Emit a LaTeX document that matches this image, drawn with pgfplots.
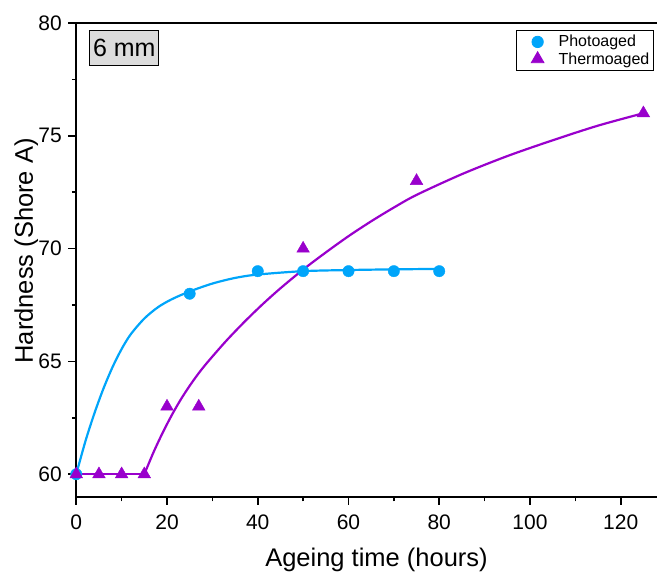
\documentclass[border=0pt]{standalone}
\usepackage{fontspec}
\setmainfont{Liberation Sans}
\usepackage{pgfplots}
\pgfplotsset{compat=1.18}
\definecolor{photo}{RGB}{0,165,250}
\definecolor{thermo}{RGB}{153,0,204}
\definecolor{boxgray}{RGB}{220,220,220}

\begin{document}
\begin{tikzpicture}
\begin{axis}[
  width=581pt, height=474pt, scale only axis,
  xmin=0, xmax=128, ymin=59, ymax=80,
  separate axis lines,
  axis x line*=box, axis y line*=left,
  axis line style={-, line width=2.3pt, black},
  xtick={0,20,...,120}, ytick={60,65,...,80},
  minor x tick num=1, minor y tick num=1,
  tick align=outside, xtick pos=bottom, ytick pos=left,
  major tick length=8pt, minor tick length=4.5pt,
  tick style={black, line width=1.6pt},
  tick label style={font=\fontsize{21}{25}\selectfont},
  xticklabel style={yshift=-7pt},
  yticklabel style={xshift=-3pt},
  /pgf/number format/assume math mode=true,
  xlabel={Ageing time (hours)},
  ylabel={Hardness (Shore A)},
  every axis x label/.style={at={(rel axis cs:0.517,0)}, yshift=-69.7pt,
    anchor=base, font=\fontsize{25.5}{30}\selectfont},
  every axis y label/.style={at={(rel axis cs:0,0.519)}, xshift=-43.3pt,
    rotate=90, anchor=base, font=\fontsize{25.5}{30}\selectfont},
  clip=false,
  legend style={at={(rel axis cs:1,1)}, anchor=north east,
    xshift=-3pt, yshift=-7pt, draw=black, line width=0.8pt,
    inner xsep=2.3pt, inner ysep=3pt,
    font=\fontsize{16}{19}\selectfont,
    cells={anchor=west}, nodes={inner xsep=2pt, inner ysep=2pt}},
  legend image code/.code={
    \path[draw=none, fill=none] (0pt,0pt) -- (37.7pt,0pt);
    \path[#1, draw=none] plot coordinates {(18.7pt,0pt)};},
]
% fitted curves
\addplot[photo, line width=2.2pt, smooth, forget plot] coordinates {
  (0,60) (2,61.45) (4,62.7) (6,63.8) (8,64.75) (10,65.55) (12,66.2)
  (15,66.9) (18,67.4) (21,67.75) (25,68.1) (30,68.45) (35,68.7)
  (40,68.85) (50,69.0) (60,69.05) (70,69.08) (80,69.1)};
\addplot[thermo, line width=2.2pt, forget plot] coordinates {
  (0,60) (15,60)};
\addplot[thermo, line width=2.2pt, smooth, forget plot] coordinates {
  (15,60) (17,60.96) (19,61.82) (21,62.6) (23,63.3) (25,63.92)
  (27,64.48) (29,64.98) (33,65.9) (37,66.74) (41,67.52) (45,68.24)
  (50,69.07) (55,69.83) (60,70.55) (65,71.21) (70,71.82) (75,72.38)
  (85,73.3) (95,74.1) (105,74.8) (115,75.45) (125,76.0)};
% measured hardness
\addplot[only marks, mark=*, mark size=5.7pt, color=photo] coordinates {
  (0,60) (25,68) (40,69) (50,69) (60,69) (70,69) (80,69)};
\addplot[only marks, mark=triangle*, mark size=7.3pt, color=thermo] coordinates {
  (0,60) (5,60) (10,60) (15,60) (20,63) (27,63) (50,70) (75,73) (125,76)};
\legend{Photoaged, Thermoaged}
\node[draw=black, line width=1pt, fill=boxgray, anchor=north west,
  minimum width=69pt, minimum height=35pt, inner sep=0pt,
  font=\fontsize{25}{30}\selectfont] at (rel axis cs:0.0224,0.985) {6 mm};
\end{axis}
\pgfresetboundingbox
\path[use as bounding box]
  ([shift={(-76.3pt,-75pt)}]current axis.south west) rectangle
  ([shift={(0pt,23pt)}]current axis.north east);
\end{tikzpicture}
\end{document}
